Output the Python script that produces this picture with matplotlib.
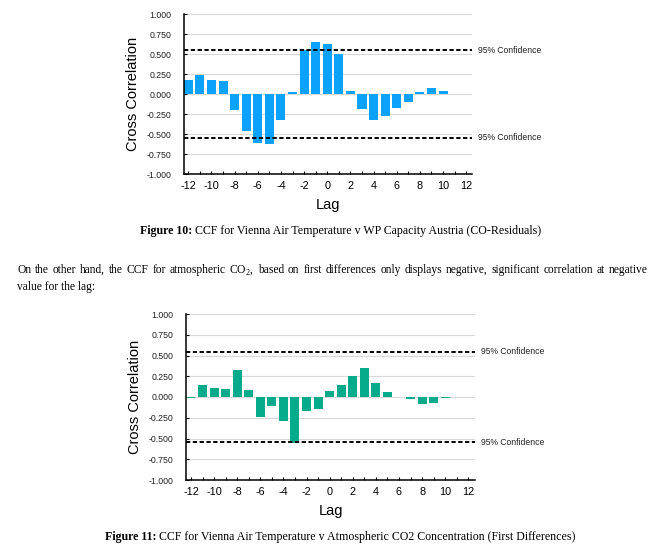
import matplotlib
matplotlib.use("Agg")
import matplotlib.pyplot as plt
import matplotlib.transforms as mtransforms

# lags and cross correlations
lags = list(range(-12, 11))
ccf_residuals = [0.18, 0.24, 0.18, 0.16, -0.20, -0.46, -0.61, -0.62, -0.32, 0.02,
                 0.55, 0.65, 0.63, 0.50, 0.04, -0.19, -0.33, -0.28, -0.18, -0.10,
                 0.03, 0.08, 0.04]
ccf_first_diff = [-0.01, 0.15, 0.11, 0.10, 0.33, 0.09, -0.245, -0.11, -0.285, -0.55,
                  -0.17, -0.14, 0.075, 0.15, 0.25, 0.355, 0.17, 0.055, 0.0, -0.03,
                  -0.09, -0.07, -0.015]
conf_level = 0.545
yticks = [-1.0, -0.75, -0.5, -0.25, 0.0, 0.25, 0.5, 0.75, 1.0]
xticks = list(range(-12, 13, 2))

caption10 = " CCF for Vienna Air Temperature v WP Capacity Austria (CO-Residuals)"
caption11 = " CCF for Vienna Air Temperature v Atmospheric CO2 Concentration (First Differences)"
para_line1 = ("On the other hand, the CCF for atmospheric CO$_2$, based on first differences "
              "only displays negative, significant correlation at negative")
para_line2 = "value for the lag:"

plt.rcParams["mathtext.fontset"] = "custom"
plt.rcParams["mathtext.rm"] = "Liberation Serif"

W, H = 661, 552
fig = plt.figure(figsize=(W / 100, H / 100), dpi=100)
sans = "Liberation Sans"
serif = "Liberation Serif"


def px(x, y):
    return x / W, 1 - y / H


def ccf_panel(rect, values, color, xlim):
    ax = fig.add_axes(rect)
    ax.bar(lags, values, width=0.78, color=color, zorder=2)
    ax.set_xlim(*xlim)
    ax.set_ylim(-1, 1)
    ax.set_yticks(yticks)
    ax.set_yticklabels([f"{v:.3f}" for v in yticks], fontsize=6.3, family=sans, color="#222222")
    ax.set_xticks(xticks)
    ax.set_xticklabels([str(v) for v in xticks], fontsize=7.8, family=sans)
    ax.set_xticks(range(-12, 13), minor=True)
    ax.tick_params(axis="x", which="both", direction="in", length=2.5, width=0.8, pad=5)
    ax.tick_params(axis="y", direction="in", length=2, width=0.8, pad=9)
    ax.grid(axis="y", color="#d9d9d9", linewidth=0.8, zorder=0)
    for s in ["top", "right"]:
        ax.spines[s].set_visible(False)
    for s in ["left", "bottom"]:
        ax.spines[s].set_linewidth(1.1)
    for yv in (conf_level, -conf_level):
        ax.axhline(yv, color="black", linestyle=(0, (2.2, 1.3)), linewidth=1.4, zorder=3)
        tr = mtransforms.blended_transform_factory(ax.transAxes, ax.transData)
        ax.text(1.02, yv, "95% Confidence", transform=tr, fontsize=6.2,
                family=sans, va="center", ha="left", color="#222222")
    ax.set_ylabel("Cross Correlation", fontsize=10.5, family=sans, labelpad=5)
    ax.set_xlabel("Lag", fontsize=10.5, family=sans, labelpad=5)
    return ax


ax1 = ccf_panel([184 / W, 1 - 174 / H, 288 / W, 160 / H], ccf_residuals, "#0aa2fa", (-12.37, 12.5))
ax2 = ccf_panel([186 / W, 1 - 480 / H, 289 / W, 166 / H], ccf_first_diff, "#05ab8b", (-12.43, 12.58))


def caption(x, y, rest):
    t = fig.text(*px(x, y), "Figure " + rest[0], fontsize=8.6, family=serif,
                 weight="bold", va="baseline", ha="left")
    fig.canvas.draw()
    bb = t.get_window_extent()
    fig.text(bb.x1 / W, px(x, y)[1], rest[1], fontsize=8.6, family=serif,
             va="baseline", ha="left")


caption(140, 234, ("10:", caption10))
caption(105, 540, ("11:", caption11))


def justified_line(x0, x1, y, line):
    # place words one by one so the line fills x0..x1, like the justified source text
    words = line.split(" ")
    arts = [fig.text(0, px(0, y)[1], w, fontsize=8.3, family=serif, va="baseline")
            for w in words]
    fig.canvas.draw()
    widths = [a.get_window_extent().width for a in arts]
    gap = (x1 - x0 - sum(widths)) / (len(words) - 1)
    x = x0
    for a, w in zip(arts, widths):
        a.set_x(x / W)
        x += w + gap


justified_line(17, 648, 273, para_line1)
fig.text(*px(17, 290), para_line2, fontsize=8.3, family=serif, va="baseline", ha="left")

fig.savefig("out.png", dpi=100)
